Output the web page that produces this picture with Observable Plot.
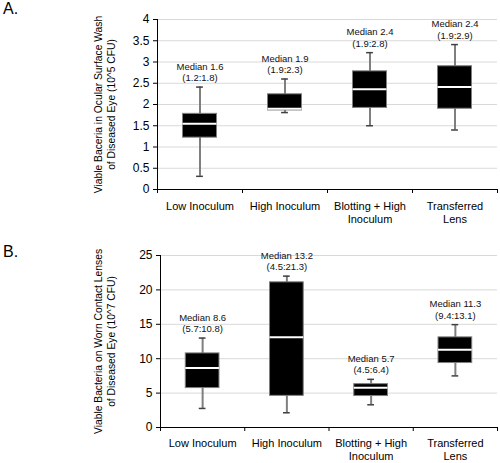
<!DOCTYPE html>
<html>
<head>
<meta charset="utf-8">
<script src="https://cdn.jsdelivr.net/npm/d3@7"></script>
<script src="https://cdn.jsdelivr.net/npm/@observablehq/plot@0.6"></script>
<style>
  html, body { margin: 0; padding: 0; background: #fff; }
  #wrap { position: relative; width: 500px; height: 463px; font-family: "Liberation Sans", Arial, sans-serif; }
  .panel { position: absolute; left: 0; }
  .letter { position: absolute; left: 3px; font-size: 16px; line-height: 16px; color: #000; z-index: 2; }
</style>
</head>
<body>
<div id="wrap">
  <div class="panel" id="pA" style="top:0px"></div>
  <div class="panel" id="pB" style="top:230px"></div>
  <div class="letter" style="top:1px">A.</div>
  <div class="letter" style="top:244px">B.</div>
</div>
<script>
// Categories
const categories = ["Low Inoculum", "High Inoculum", "Blotting + High\nInoculum", "Transferred\nLens"];

// Panel A: ocular surface wash (10^5 CFU)
const washMin = [0.31, 1.81, 1.50, 1.40];
const washQ1  = [1.22, 1.86, 1.92, 1.90];
const washMed = [1.55, 1.90, 2.36, 2.41];
const washQ3  = [1.78, 2.24, 2.78, 2.90];
const washMax = [2.41, 2.60, 3.22, 3.41];
const washLabels = ["Median 1.6\n(1.2:1.8)", "Median 1.9\n(1.9:2.3)", "Median 2.4\n(1.9:2.8)", "Median 2.4\n(1.9:2.9)"];
const washTicks = [0, 0.5, 1, 1.5, 2, 2.5, 3, 3.5, 4];
const washTitle = "Viable Baceria in Ocular Surface Wash\nof Diseased Eye (10^5 CFU)";

// Panel B: worn contact lenses (10^7 CFU)
const lensMin = [2.77, 2.14, 3.30, 7.50];
const lensQ1  = [5.73, 4.60, 4.57, 9.37];
const lensMed = [8.65, 13.10, 5.78, 11.30];
const lensQ3  = [10.77, 21.10, 6.30, 13.10];
const lensMax = [13.00, 22.00, 7.00, 14.95];
const lensLabels = ["Median 8.6\n(5.7:10.8)", "Median 13.2\n(4.5:21.3)", "Median 5.7\n(4.5:6.4)", "Median 11.3\n(9.4:13.1)"];
const lensTicks = [0, 5, 10, 15, 20, 25];
const lensTitle = "Viable Bacteria on Worn Contact Lenses\nof Diseased Eye (10^7 CFU)";

const FONT = "Liberation Sans, Arial, Helvetica, sans-serif";
const HALF_BOX = 0.2, HALF_CAP = 0.04;

function panel(o) {
  const rows = categories.map((c, i) => ({
    i, c, min: o.mins[i], q1: o.q1s[i], med: o.meds[i], q3: o.q3s[i], max: o.maxs[i], label: o.labels[i]
  }));
  const n = categories.length;
  const top = o.ticks[o.ticks.length - 1];
  return Plot.plot({
    width: 500, height: o.height,
    marginTop: o.marginTop, marginBottom: o.marginBottom, marginLeft: o.marginLeft, marginRight: 3,
    style: { fontFamily: FONT, color: "#000", background: "transparent", overflow: "visible" },
    x: { domain: [0, n] },
    y: { domain: [0, top] },
    marks: [
      Plot.gridY(o.ticks.slice(1), { stroke: "#d9d9d9", strokeOpacity: 1 }),
      Plot.axisY(o.ticks, { tickSize: 4, tickPadding: 4, fontSize: 12, tickFormat: d => String(d), label: null, stroke: "#000" }),
      Plot.axisX(d3.range(n + 1), { tickSize: 4, tickFormat: () => "", label: null, stroke: "#000" }),
      Plot.axisX(rows.map(d => d.i + 0.5), { tickSize: 0, tickPadding: o.xPad, fontSize: 11, lineHeight: 1.2,
        tickFormat: v => categories[Math.floor(v)], label: null }),
      Plot.ruleX([0], { stroke: "#000" }),
      Plot.ruleY([0], { stroke: "#000" }),
      Plot.ruleX(rows, { x: d => d.i + 0.5, y1: "min", y2: "max", stroke: "#7f7f7f", strokeWidth: 2 }),
      Plot.ruleY(rows, { y: "max", x1: d => d.i + 0.5 - HALF_CAP, x2: d => d.i + 0.5 + HALF_CAP, stroke: "#404040", strokeWidth: 1.5 }),
      Plot.ruleY(rows, { y: "min", x1: d => d.i + 0.5 - HALF_CAP, x2: d => d.i + 0.5 + HALF_CAP, stroke: "#404040", strokeWidth: 1.5 }),
      Plot.rect(rows, { x1: d => d.i + 0.5 - HALF_BOX, x2: d => d.i + 0.5 + HALF_BOX, y1: "q1", y2: "q3",
        fill: "#000", stroke: "#7f7f7f", strokeWidth: 1 }),
      Plot.ruleY(rows, { y: "med", x1: d => d.i + 0.5 - HALF_BOX, x2: d => d.i + 0.5 + HALF_BOX, stroke: "#fff", strokeWidth: 2 }),
      Plot.text(rows, { x: d => d.i + 0.5, y: "max", text: "label", lineAnchor: "bottom", dy: -6,
        fontSize: 9.5, lineHeight: 1.2, fill: "#111" }),
      Plot.text([o.title], { frameAnchor: "left", textAnchor: "middle", lineAnchor: "middle", rotate: -90, dx: o.titleDx, text: d => d,
        fontSize: 10.3, lineHeight: 1.25, fill: "#000" })
    ]
  });
}

document.getElementById("pA").append(panel({
  mins: washMin, q1s: washQ1, meds: washMed, q3s: washQ3, maxs: washMax, labels: washLabels,
  ticks: washTicks, title: washTitle,
  height: 230, marginTop: 19, marginBottom: 41, marginLeft: 157, xPad: 11, titleDx: -53.5
}));
document.getElementById("pB").append(panel({
  mins: lensMin, q1s: lensQ1, meds: lensMed, q3s: lensQ3, maxs: lensMax, labels: lensLabels,
  ticks: lensTicks, title: lensTitle,
  height: 233, marginTop: 25, marginBottom: 36, marginLeft: 160, xPad: 10, titleDx: -56.5
}));
</script>
</body>
</html>
